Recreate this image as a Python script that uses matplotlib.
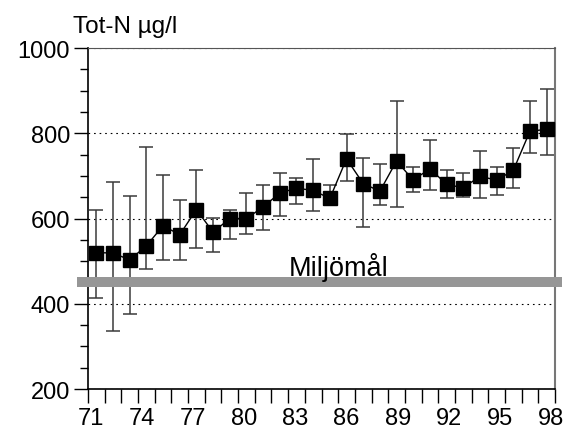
import numpy as np
import matplotlib
matplotlib.use("Agg")
import matplotlib.pyplot as plt

# Annual mean total nitrogen with min/max range, 1971-1998
years = np.arange(71, 99)
tot_n = [520, 519, 503, 536, 583, 562, 621, 568, 600, 600,
         627, 660, 671, 666, 647, 740, 682, 664, 735, 690,
         717, 680, 672, 699, 690, 713, 805, 809]
upper = [620, 685, 652, 768, 701, 643, 714, 602, 621, 660,
         678, 707, 695, 740, 678, 798, 741, 728, 875, 720,
         784, 714, 706, 758, 720, 765, 875, 904]
lower = [413, 335, 376, 482, 503, 503, 531, 522, 552, 564,
         573, 606, 635, 617, 631, 688, 580, 631, 627, 662,
         667, 648, 650, 648, 654, 671, 754, 749]
target = 450
year_labels = ["71", "74", "77", "80", "83", "86", "89", "92", "95", "98"]

plt.rcParams.update({
    "font.family": "Liberation Sans",
    "font.size": 17,
})

fig = plt.figure(figsize=(5.63, 4.31), dpi=100)
ax = fig.add_axes([0.1563, 0.0951, 0.8295, 0.7912])

tot_n = np.asarray(tot_n)
yerr = [tot_n - np.asarray(lower), np.asarray(upper) - tot_n]

ax.errorbar(years, tot_n, yerr=yerr, fmt="none", ecolor="#3a3a3a",
            elinewidth=1.1, capsize=5, capthick=1.1, zorder=2)
ax.plot(years, tot_n, color="black", linewidth=1.0, marker="s",
        markersize=10, markerfacecolor="black", markeredgecolor="black",
        zorder=4)

# environmental target level
ax.axhline(target, xmin=-0.013, xmax=1.004, color="#969696",
           linewidth=7.2, clip_on=False, zorder=3)
ax.text(85.55, 468, "Miljömål", ha="center", va="baseline",
        fontsize=19.5)

ax.set_xlim(70.5, 98.5)
ax.set_ylim(200, 1000)

ax.set_yticks([200, 400, 600, 800, 1000])
ax.set_yticks(np.arange(200, 1001, 50), minor=True)
ax.tick_params(axis="y", which="major", direction="out", length=10,
               width=1.0, pad=3)
ax.tick_params(axis="y", which="minor", direction="out", length=6,
               width=1.0)

ax.set_xticks(np.linspace(70.7, 98.25, 10))
ax.set_xticklabels(year_labels)
ax.set_xticks(np.arange(70.5, 98.6, 1.0), minor=True)
ax.tick_params(axis="x", which="major", length=0, pad=13)
ax.tick_params(axis="x", which="minor", direction="out", length=10,
               width=1.0)

ax.grid(True, axis="y", which="major", color="black",
        linestyle=(0, (1.5, 3.5)), linewidth=0.8)

ax.spines["top"].set_linestyle((0, (1, 1)))
ax.spines["top"].set_color("#555555")
ax.spines["right"].set_color("#777777")
ax.spines["right"].set_linewidth(1.5)
ax.spines["left"].set_linewidth(1.2)
ax.spines["bottom"].set_linewidth(1.2)

fig.text(73 / 563, 1 - 33 / 431, "Tot-N µg/l", ha="left",
         va="baseline", fontsize=17.5)

fig.savefig("out.png", dpi=100)
